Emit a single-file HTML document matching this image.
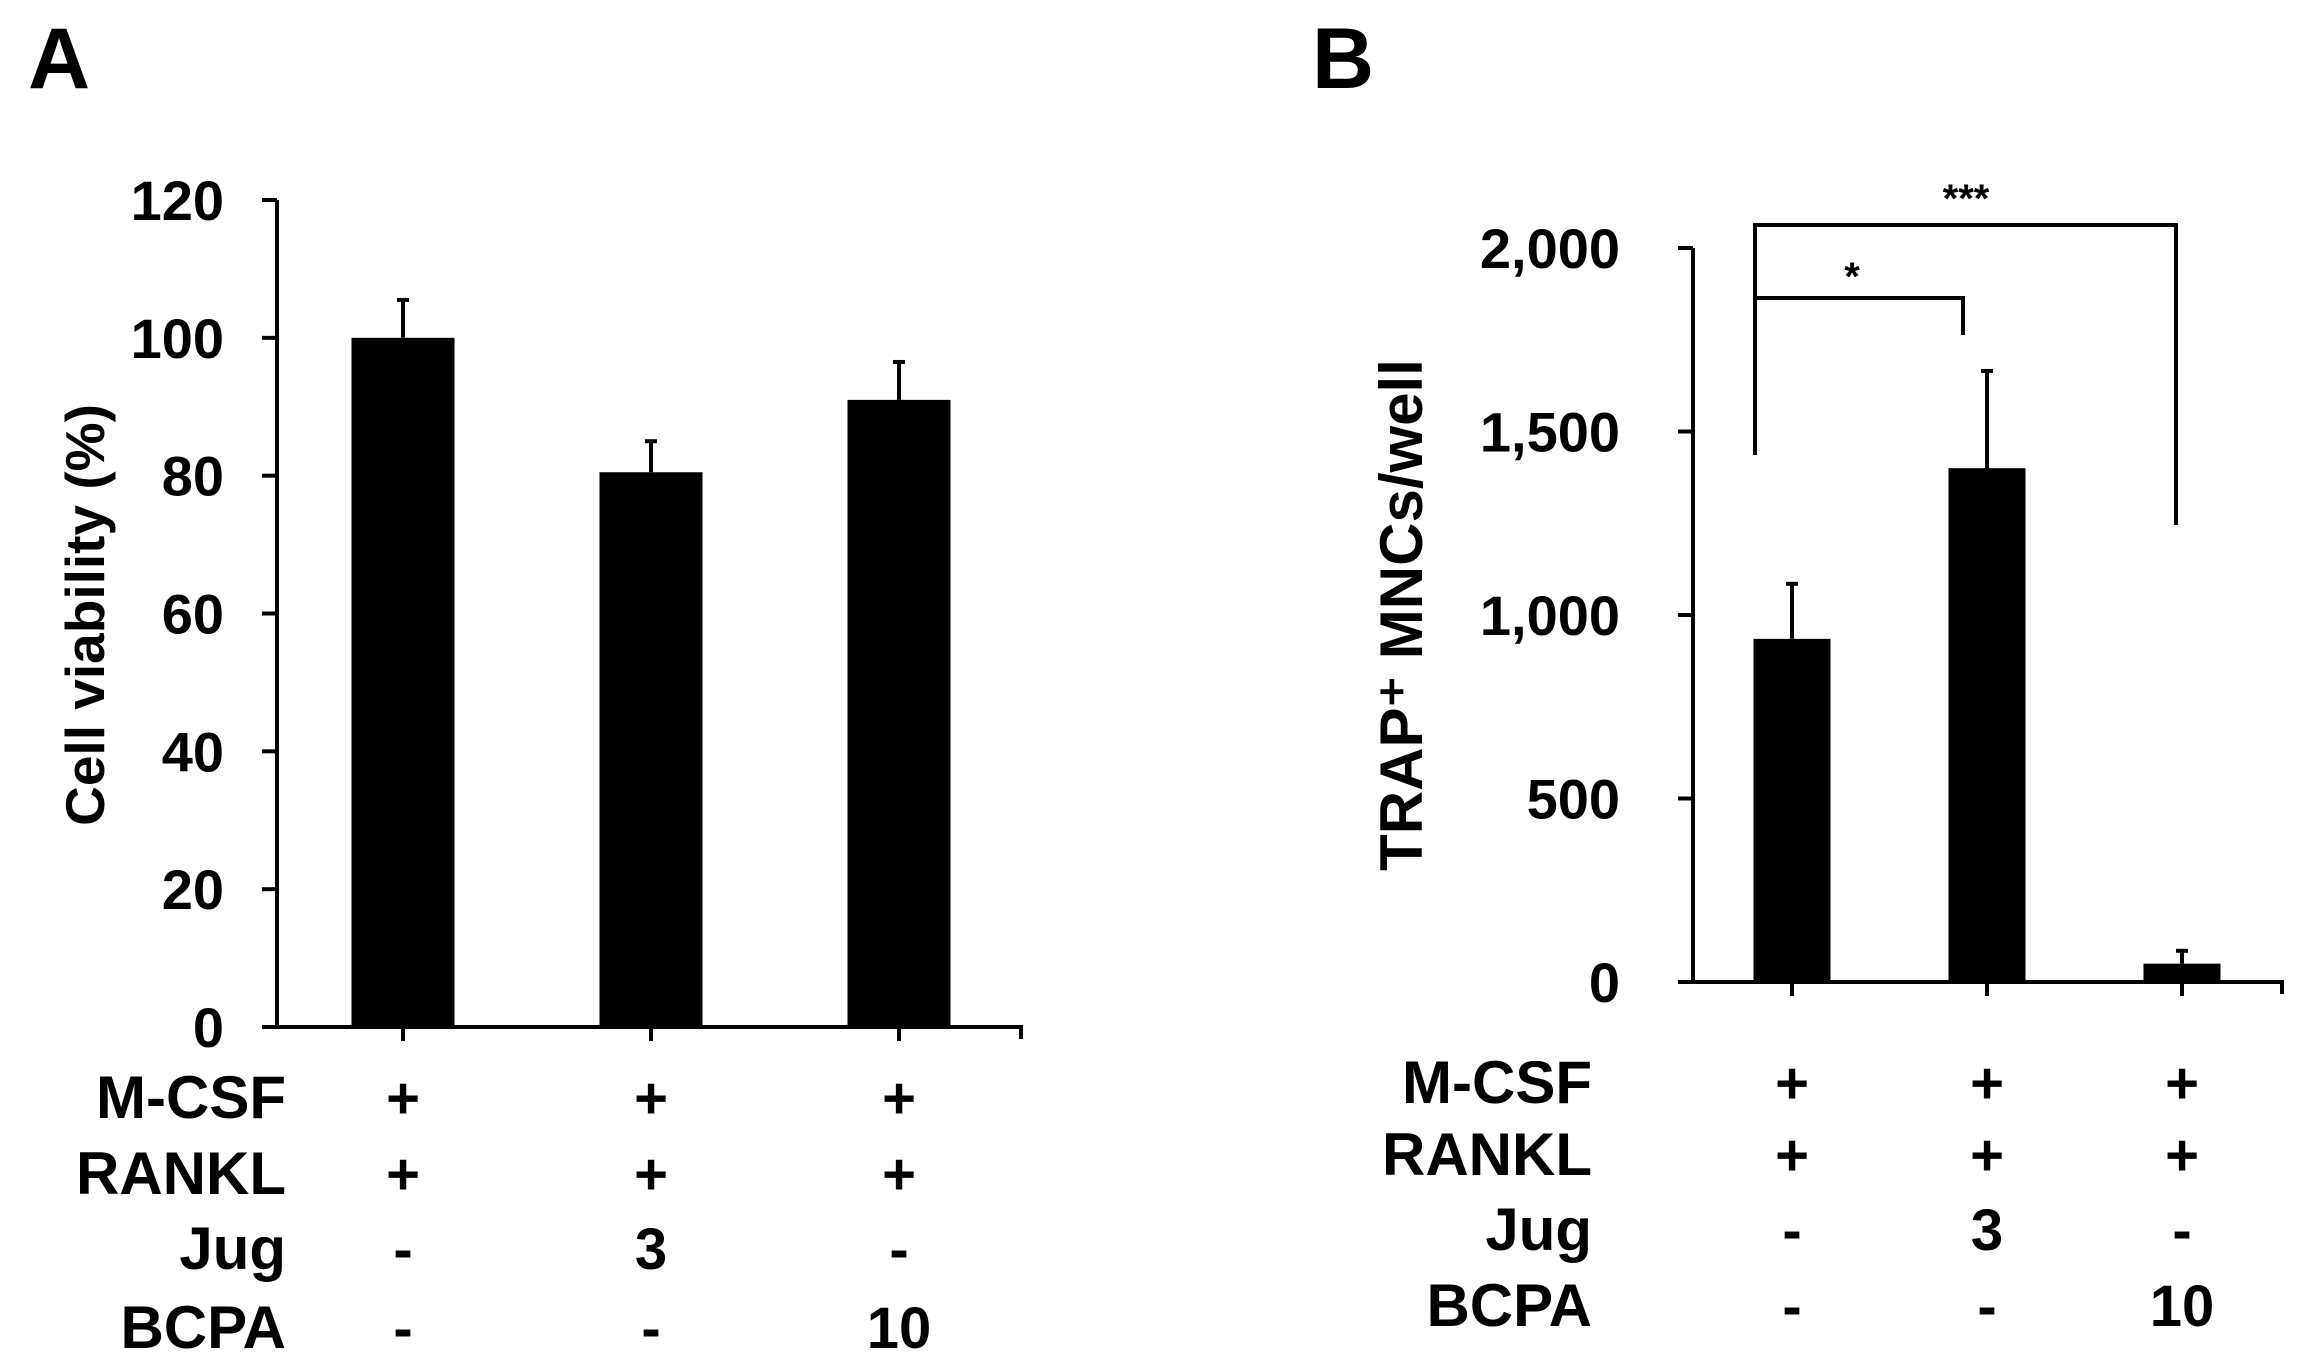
<!DOCTYPE html>
<html><head><meta charset="utf-8"><style>
html,body{margin:0;padding:0;background:#fff;}
svg{display:block;font-family:"Liberation Sans",Arial,sans-serif;font-weight:bold;}
</style></head><body>
<svg id="fig" width="2301" height="1368" viewBox="0 0 2301 1368">
<text x="28" y="88" font-size="86">A</text>
<text x="1312" y="88" font-size="86">B</text>
<text transform="translate(104,615) rotate(-90)" text-anchor="middle" font-size="55">Cell viability (%)</text>
<text transform="translate(1422,615) rotate(-90)" text-anchor="middle" font-size="60">TRAP⁺ MNCs/well</text>
<g id="ga"></g><g id="gb"></g>
</svg>
<script>
const NS="http://www.w3.org/2000/svg";
const categories=["Control","Jug 3","BCPA 10"];
const valuesA=[100,80.5,91];
const errorsA=[5.5,4.5,5.5];
const ticksA=[0,20,40,60,80,100,120];
const tickLabelsA=["0","20","40","60","80","100","120"];
const valuesB=[935,1400,50];
const errorsB=[150,265,35];
const ticksB=[0,500,1000,1500,2000];
const tickLabelsB=["0","500","1,000","1,500","2,000"];
const rowLabels=["M-CSF","RANKL","Jug","BCPA"];
const rowValues=[["+","+","+"],["+","+","+"],["-","3","-"],["-","-","10"]];

function mk(p,tag,attrs){const e=document.createElementNS(NS,tag);for(const k in attrs)e.setAttribute(k,attrs[k]);p.appendChild(e);return e;}

function panel(g,cfg){
  const y=v=>cfg.y0-(v-cfg.vmin)/(cfg.vmax-cfg.vmin)*(cfg.y0-cfg.ytop);
  const ax=mk(g,'line',{x1:cfg.ax,y1:y(cfg.vmax),x2:cfg.ax,y2:cfg.y0,stroke:'#000','stroke-width':4});
  
  
  const xa=mk(g,'path',{d:`M${cfg.ax},${cfg.y0}H${cfg.xend}V${cfg.y0+12}`,stroke:'#000','stroke-width':4,fill:'none'});
  
  
  cfg.ticks.forEach((t,i)=>{
    mk(g,'line',{x1:cfg.ax-15,y1:y(t),x2:cfg.ax,y2:y(t),stroke:'#000','stroke-width':4});
    const tx=mk(g,'text',{x:cfg.labr,y:y(t)+20,'text-anchor':'end','font-size':56});
    tx.textContent=cfg.labels[i];
    
    
  });
  const step=cfg.step;
  categories.forEach((c,i)=>{
    const cx=cfg.ax+step*(i+0.5)+cfg.shift;
    const v=cfg.values[i],e=cfg.errors[i];
    mk(g,'line',{x1:cx,y1:y(v),x2:cx,y2:y(v+e),stroke:'#000','stroke-width':4});
    mk(g,'line',{x1:cx-6,y1:y(v+e),x2:cx+6,y2:y(v+e),stroke:'#000','stroke-width':4});
    const b=mk(g,'rect',{x:cx-cfg.bw/2,y:y(v),width:cfg.bw,height:cfg.y0-y(v),fill:'#000'});
    
    
    mk(g,'line',{x1:cx,y1:cfg.y0,x2:cx,y2:cfg.y0+14,stroke:'#000','stroke-width':4});
    rowValues.forEach((r,j)=>{
      const t=mk(g,'text',{x:cx,y:cfg.rows[j]+20,'text-anchor':'middle','font-size':58});
      t.textContent=r[i];
      
      
    });
  });
  rowLabels.forEach((r,j)=>{
    const t=mk(g,'text',{x:cfg.labx,y:cfg.rows[j]+20,'text-anchor':'end','font-size':60});
    t.textContent=r;
    
    
  });
  return {y,step};
}
const A=panel(document.getElementById('ga'),{id:'a',ax:277,xend:1021,step:248,y0:1027,ytop:200,vmin:0,vmax:120,ticks:ticksA,labels:tickLabelsA,values:valuesA,errors:errorsA,bw:103,shift:2,rows:[1098,1174,1249,1328],labx:286,labr:224});
const gb=document.getElementById('gb');
const B=panel(gb,{id:'b',ax:1693,xend:2282,step:195,y0:982,ytop:248,vmin:0,vmax:2000,ticks:ticksB,labels:tickLabelsB,values:valuesB,errors:errorsB,bw:77,shift:1.5,rows:[1083,1155,1230,1306],labx:1592,labr:1620});
const b1=mk(gb,'path',{d:'M1755,455V225H2176V525',stroke:'#000','stroke-width':4,fill:'none'});


const b2=mk(gb,'path',{d:'M1755,455V298H1963V335',stroke:'#000','stroke-width':4,fill:'none'});


const s1=mk(gb,'text',{x:1966,y:212,'text-anchor':'middle','font-size':40});s1.textContent='***';


const s2=mk(gb,'text',{x:1852,y:290,'text-anchor':'middle','font-size':40});s2.textContent='*';


</script>
</body></html>
